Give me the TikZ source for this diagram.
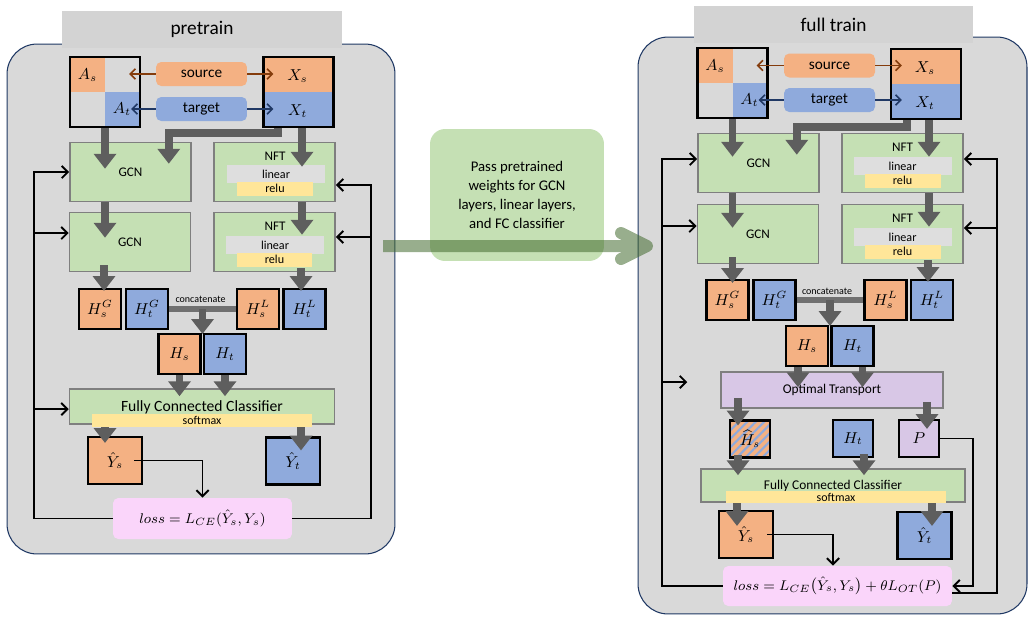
\documentclass[tikz,border=0pt]{standalone}
\usepackage{fontspec}
\setmainfont{Carlito}
\usepackage{amsmath}
\usepackage{xcolor}
\usetikzlibrary{arrows.meta,positioning,calc,patterns.meta}

\definecolor{srcfill}{HTML}{F4B183}
\definecolor{tgtfill}{HTML}{8FAADC}
\definecolor{srcline}{HTML}{843C0C}
\definecolor{tgtline}{HTML}{203864}
\definecolor{layerfill}{HTML}{C5E0B4}
\definecolor{layerline}{HTML}{7F7F7F}
\definecolor{linfill}{HTML}{DEDEDE}
\definecolor{relufill}{HTML}{FFE699}
\definecolor{panelfill}{HTML}{D9D9D9}
\definecolor{panelline}{HTML}{1F3864}
\definecolor{titlefill}{HTML}{D3D3D3}
\definecolor{otfill}{HTML}{D8C7E6}
\definecolor{lossfill}{HTML}{FAD5FA}
\definecolor{flowgray}{HTML}{5E5E5E}
\definecolor{catgray}{HTML}{707070}
\definecolor{passgreen}{HTML}{436B2F}

\newcommand{\fsz}[1]{\fontsize{#1}{#1}\selectfont}

\begin{document}
\begin{tikzpicture}[
  x=0.02cm, y=-0.02cm,
  panel/.style={draw=panelline, line width=0.6pt, fill=panelfill, rounded corners=0.6cm},
  titlebar/.style={fill=titlefill, minimum width=5.6cm, minimum height=0.74cm, font=\fsz{11}},
  mat/.style={draw, line width=1.2pt, fill=panelfill, minimum size=1.4cm, inner sep=0pt},
  adj/.style={mat, path picture={
      \fill[srcfill] (path picture bounding box.north west) rectangle (path picture bounding box.center);
      \fill[tgtfill] (path picture bounding box.center) rectangle (path picture bounding box.south east);}},
  feat/.style={mat, path picture={
      \fill[srcfill] (path picture bounding box.north west) rectangle (path picture bounding box.east);
      \fill[tgtfill] (path picture bounding box.west) rectangle (path picture bounding box.south east);}},
  mlabel/.style={inner sep=0pt, font=\fsz{9}},
  pill/.style={rounded corners=3pt, minimum width=1.82cm, minimum height=0.48cm, inner sep=0pt, font=\fsz{8.7}},
  layer/.style={draw=layerline, line width=0.9pt, fill=layerfill, minimum width=2.42cm, minimum height=1.18cm, inner sep=0pt, font=\fsz{7.5}},
  layertxt/.style={inner sep=0pt, font=\fsz{7.5}},
  linbar/.style={fill=linfill, minimum width=1.96cm, minimum height=0.37cm, inner sep=0pt, font=\fsz{6.9}},
  relubar/.style={fill=relufill, minimum width=1.52cm, minimum height=0.28cm, inner sep=0pt, font=\fsz{6.9}},
  hbox/.style={draw, line width=1.2pt, minimum width=0.84cm, minimum height=0.8cm, inner sep=0pt, font=\fsz{9}},
  ybox/.style={draw, line width=1.2pt, minimum width=1.08cm, minimum height=0.94cm, inner sep=0pt, font=\fsz{9}},
  hatched/.style={hbox, minimum width=0.8cm, minimum height=0.74cm, fill=srcfill, path picture={
      \fill[pattern={Lines[angle=45,distance=3.4pt,line width=1.2pt]}, pattern color=tgtfill]
        (path picture bounding box.south west) rectangle (path picture bounding box.north east);}},
  classifier/.style={draw=layerline, line width=0.9pt, fill=layerfill, minimum height=0.7cm, inner sep=0pt},
  smbar/.style={fill=relufill, minimum width=4.4cm, minimum height=0.26cm, inner sep=0pt, font=\fsz{6.8}},
  losspill/.style={fill=lossfill, rounded corners=3pt, minimum height=0.82cm, inner sep=0pt, font=\fsz{8}},
  fat/.style={draw=flowgray, line width=4.5pt, -{Triangle[length=8.5pt,width=12.5pt]}},
  catbar/.style={draw=catgray, line width=3pt},
  fb/.style={draw=black, line width=1.1pt, -{Straight Barb[length=3.5pt,width=7pt]}},
  srcarrow/.style={draw=srcline, line width=0.9pt, -{Straight Barb[length=3pt,width=6pt]}},
  tgtarrow/.style={draw=tgtline, line width=0.9pt, -{Straight Barb[length=3pt,width=6pt]}},
  passarrow/.style={draw=passgreen, line width=0.24cm},
  small/.style={inner sep=0pt, font=\fsz{5.7}}
]
\useasboundingbox (0,0) rectangle (1033,620);

% ---------------- pretrain ----------------
\node[panel, minimum width=7.76cm, minimum height=10.2cm] (panelL) at (201,299) {};
\node[titlebar] (titleL) at (202,29.5) {pretrain};

% inputs
\node[adj] (AL) at (105,92) {};
\node[feat] (XL) at (298.5,92) {};
\node[mlabel] (AsL) at ($(AL.center)+(-17.5,-17)$) {$A_s$};
\node[mlabel] (AtL) at ($(AL.center)+(17,17)$) {$A_t$};
\node[mlabel] (XsL) at ($(XL.center)+(-1,-16)$) {$X_s$};
\node[mlabel] (XtL) at ($(XL.center)+(-1,19)$) {$X_t$};
\node[pill, fill=srcfill] (srcL) at (201.5,74) {source};
\node[pill, fill=tgtfill] (tgtL) at (201.5,109) {target};

% GCN / NFT layers
\node[layer] (gcnAL) at (130.5,172) {GCN};
\node[layer] (nftAL) at (274.5,172) {};
\node[layertxt] (nftAtL) at (275,156) {NFT};
\node[linbar] (linAL) at (276,174) {linear};
\node[relubar] (reluAL) at (275,188.5) {relu};
\node[layer] (gcnBL) at (130,242) {GCN};
\node[layer] (nftBL) at (274.5,242) {};
\node[layertxt] (nftBtL) at (275,226) {NFT};
\node[linbar] (linBL) at (275,245) {linear};
\node[relubar] (reluBL) at (274.5,259.5) {relu};

% embeddings
\node[hbox, fill=srcfill] (HsGL) at (100,309) {$H^G_s$};
\node[hbox, fill=tgtfill] (HtGL) at (147,309) {$H^G_t$};
\node[hbox, fill=srcfill] (HsLL) at (258,309) {$H^L_s$};
\node[hbox, fill=tgtfill] (HtLL) at (304.5,309) {$H^L_t$};
\node[small] (catTL) at (200.5,299) {concatenate};
\node[hbox, fill=srcfill] (HsL) at (179.5,354) {$H_s$};
\node[hbox, fill=tgtfill] (HtL) at (225,354) {$H_t$};

% classifier and loss
\node[classifier, minimum width=5.3cm] (FCL) at (202,406.5) {};
\node[inner sep=0pt, font=\fsz{8.9}] (FCtL) at (202,407) {Fully Connected Classifier};
\node[smbar] (smL) at (202,420.5) {softmax};
\node[ybox, fill=srcfill] (YsL) at (115,460.5) {$\hat{Y}_s$};
\node[ybox, fill=tgtfill] (YtL) at (293,461) {$\hat{Y}_t$};
\node[losspill, minimum width=3.58cm] (lossL) at (202.5,518.5) {$loss = L_{CE}(\hat{Y}_s, Y_s)$};

% ---------------- full train ----------------
\node[panel, minimum width=7.78cm, minimum height=11.54cm] (panelR) at (832.5,325.5) {};
\node[titlebar, minimum width=5.58cm] (titleR) at (833.5,24.5) {full train};

% inputs
\node[adj] (AR) at (732.5,83) {};
\node[feat] (XR) at (926,84) {};
\node[mlabel] (AsR) at ($(AR.center)+(-17.5,-17)$) {$A_s$};
\node[mlabel] (AtR) at ($(AR.center)+(17,17)$) {$A_t$};
\node[mlabel] (XsR) at ($(XR.center)+(-1,-16)$) {$X_s$};
\node[mlabel] (XtR) at ($(XR.center)+(-1,19)$) {$X_t$};
\node[pill, fill=srcfill] (srcR) at (829.5,65.5) {source};
\node[pill, fill=tgtfill] (tgtR) at (829.5,100) {target};

% GCN / NFT layers
\node[layer] (gcnAR) at (758.5,163) {GCN};
\node[layer] (nftAR) at (902.5,163) {};
\node[layertxt] (nftAtR) at (902.5,147) {NFT};
\node[linbar] (linAR) at (902.5,166) {linear};
\node[relubar] (reluAR) at (902.5,180.5) {relu};
\node[layer] (gcnBR) at (758,234) {GCN};
\node[layer] (nftBR) at (902.5,234) {};
\node[layertxt] (nftBtR) at (902.5,218) {NFT};
\node[linbar] (linBR) at (902.5,237) {linear};
\node[relubar] (reluBR) at (902.5,251.5) {relu};

% embeddings
\node[hbox, fill=srcfill] (HsGR) at (727.5,300) {$H^G_s$};
\node[hbox, fill=tgtfill] (HtGR) at (774.5,300) {$H^G_t$};
\node[hbox, fill=srcfill] (HsLR) at (885.5,300) {$H^L_s$};
\node[hbox, fill=tgtfill] (HtLR) at (932,300) {$H^L_t$};
\node[small] (catTR) at (827,291) {concatenate};
\node[hbox, fill=srcfill] (HsR) at (807,346) {$H_s$};
\node[hbox, fill=tgtfill] (HtR) at (852.5,346) {$H_t$};

% transport
\node[classifier, fill=otfill, minimum width=4.44cm, minimum height=0.72cm, font=\fsz{7.6}] (OTR) at (832,390) {Optimal Transport};
\node[hatched] (HhsR) at (750,439) {$\widehat{H}_s$};
\node[hbox, fill=tgtfill, minimum width=0.8cm, minimum height=0.74cm] (HtbR) at (853,438.5) {$H_t$};
\node[hbox, fill=otfill, minimum width=0.8cm, minimum height=0.74cm] (PR) at (919,438.5) {$P$};

% classifier and loss
\node[classifier, minimum width=5.28cm, minimum height=0.66cm] (FCR) at (833,485.5) {};
\node[inner sep=0pt, font=\fsz{7.6}] (FCtR) at (833,486) {Fully Connected Classifier};
\node[smbar, minimum height=0.24cm] (smR) at (836,497) {softmax};
\node[ybox, fill=srcfill] (YsR) at (746,534.5) {$\hat{Y}_s$};
\node[ybox, fill=tgtfill] (YtR) at (924.5,535.5) {$\hat{Y}_t$};
\node[losspill, minimum width=4.58cm, minimum height=0.8cm] (lossR) at (837.5,586)
  {$loss = L_{CE}\bigl(\hat{Y}_s, Y_s\bigr) + \theta L_{OT}(P)$};

% ---------------- weight transfer ----------------
\node[fill=layerfill, rounded corners=0.3cm, minimum width=3.48cm, minimum height=2.64cm,
      align=center, font=\fontsize{8.4}{10.8}\selectfont] (passbox) at (517,195)
  {Pass pretrained\\weights for GCN\\layers, linear layers,\\and FC classifier};
\coordinate (wfrom) at (383,246);
\coordinate (wto) at (647,246);
\coordinate (wup) at (621,233);
\coordinate (wdown) at (621,259);
\begin{scope}[transparency group, opacity=0.55]
  \draw[passarrow] (wfrom) -- ([xshift=-0.1cm]wto);
  \draw[passarrow, line cap=round, line join=round] (wup) -- (wto) -- (wdown);
\end{scope}

% ---------------- arrows: pretrain ----------------
\draw[srcarrow] (srcL.west) -- ([xshift=-0.24cm]AL.east |- srcL.west);
\draw[srcarrow] (srcL.east) -- ([xshift=0.22cm]XL.west |- srcL.east);
\draw[tgtarrow] (tgtL.west) -- ([xshift=-0.2cm]AL.east |- tgtL.west);
\draw[tgtarrow] (tgtL.east) -- ([xshift=0.22cm]XL.west |- tgtL.east);

\draw[fat] (AL.south) -- ([yshift=-0.54cm]AL.south |- gcnAL.north);
\draw[fat] ([xshift=-0.41cm]XL.south) |- ([xshift=-0.46cm,yshift=0.18cm]gcnAL.north east)
  -- ([xshift=-0.46cm,yshift=-0.44cm]gcnAL.north east);
\draw[fat] ([xshift=0.07cm]XL.south) -- ([xshift=0.07cm,yshift=-0.5cm]XL.south |- nftAL.north);
\draw[fat] (AL.south |- gcnAL.south) -- ([yshift=-0.52cm]AL.south |- gcnBL.north);
\draw[fat] ([xshift=0.07cm]XL.south |- nftAL.south) -- ([xshift=0.07cm,yshift=-0.46cm]XL.south |- nftBL.north);
\draw[fat] ([xshift=0.08cm,yshift=0.14cm]gcnBL.south -| HsGL) -- ([xshift=0.08cm,yshift=-0.06cm]HsGL.north);
\draw[fat] ([xshift=-0.07cm,yshift=0.08cm]nftBL.south -| HtLL) -- ([xshift=-0.07cm,yshift=-0.06cm]HtLL.north);
\draw[catbar] (HtGL.east) -- (HsLL.west);
\coordinate (catL) at ($(HtGL.east)!0.5!(HsLL.west)$);
\draw[fat] (catL) -- ([yshift=-0.02cm]catL |- HsL.north);
\draw[fat] (HsL.south) -- ([yshift=-0.16cm]HsL.south |- FCL.north);
\draw[fat] (HtL.south) -- ([yshift=-0.16cm]HtL.south |- FCL.north);
\draw[fat] ([xshift=-0.2cm]YsL.north |- smL.south) -- ([xshift=-0.2cm,yshift=-0.14cm]YsL.north);
\draw[fat] ([xshift=0.16cm]YtL.north |- smL.south) -- ([xshift=0.16cm,yshift=-0.28cm]YtL.north);

\draw[fb] ([xshift=-0.18cm]YsL.east) -| (lossL.north);
\draw[fb] (lossL.west) -| ([xshift=-0.7cm]gcnAL.west) -- (gcnAL.west);
\draw[fb] ([xshift=-0.7cm,yshift=0.18cm]gcnBL.west) -- ([yshift=0.18cm]gcnBL.west);
\draw[fb] ([xshift=-0.7cm,yshift=-0.05cm]FCL.west) -- ([yshift=-0.05cm]FCL.west);
\draw[fb] (lossL.east) -| ([xshift=0.7cm,yshift=-0.26cm]nftAL.east) -- ([yshift=-0.26cm]nftAL.east);
\draw[fb] ([xshift=0.7cm,yshift=0.1cm]nftBL.east) -- ([yshift=0.1cm]nftBL.east);

% ---------------- arrows: full train ----------------
\draw[srcarrow] (srcR.west) -- ([xshift=-0.24cm]AR.east |- srcR.west);
\draw[srcarrow] (srcR.east) -- ([xshift=0.24cm]XR.west |- srcR.east);
\draw[tgtarrow] (tgtR.west) -- ([xshift=-0.2cm]AR.east |- tgtR.west);
\draw[tgtarrow] (tgtR.east) -- ([xshift=0.24cm]XR.west |- tgtR.east);

\draw[fat] (AR.south) -- ([yshift=-0.48cm]AR.south |- gcnAR.north);
\draw[fat] ([xshift=-0.38cm]XR.south) |- ([xshift=-0.46cm,yshift=0.12cm]gcnAR.north east)
  -- ([xshift=-0.46cm,yshift=-0.44cm]gcnAR.north east);
\draw[fat] ([xshift=0.06cm]XR.south) -- ([xshift=0.06cm,yshift=-0.48cm]XR.south |- nftAR.north);
\draw[fat] (AR.south |- gcnAR.south) -- ([yshift=-0.48cm]AR.south |- gcnBR.north);
\draw[fat] ([xshift=0.06cm]XR.south |- nftAR.south) -- ([xshift=0.06cm,yshift=-0.46cm]XR.south |- nftBR.north);
\draw[fat] ([xshift=0.1cm,yshift=0.14cm]gcnBR.south -| HsGR) -- ([xshift=0.1cm,yshift=-0.08cm]HsGR.north);
\draw[fat] ([xshift=-0.08cm,yshift=0.08cm]nftBR.south -| HtLR) -- ([xshift=-0.08cm,yshift=-0.06cm]HtLR.north);
\draw[catbar] (HtGR.east) -- (HsLR.west);
\coordinate (catR) at ($(HtGR.east)!0.5!(HsLR.west)$);
\draw[fat] (catR) -- ([yshift=-0.02cm]catR |- HsR.north);
\draw[fat] ([xshift=-0.18cm]HsR.south) -- ([xshift=-0.18cm,yshift=-0.32cm]HsR.south |- OTR.north);
\draw[fat] ([xshift=0.2cm]HtR.south) -- ([xshift=0.2cm,yshift=-0.32cm]HtR.south |- OTR.north);
\draw[fat] ([xshift=-0.24cm,yshift=0.22cm]OTR.south -| HhsR) -- ([xshift=-0.24cm,yshift=-0.12cm]HhsR.north);
\draw[fat] ([xshift=0.16cm,yshift=0.14cm]OTR.south -| PR) -- ([xshift=0.16cm,yshift=-0.2cm]PR.north);
\draw[fat] ([xshift=-0.24cm,yshift=0.08cm]HhsR.south) -- ([xshift=-0.24cm,yshift=-0.14cm]HhsR.south |- FCR.north);
\draw[fat] ([xshift=0.22cm,yshift=0.08cm]HtbR.south) -- ([xshift=0.22cm,yshift=-0.14cm]HtbR.south |- FCR.north);
\draw[fat] ([xshift=-0.18cm]YsR.north |- smR.south) -- ([xshift=-0.18cm,yshift=-0.32cm]YsR.north);
\draw[fat] ([xshift=0.15cm]YtR.north |- smR.south) -- ([xshift=0.15cm,yshift=-0.3cm]YtR.north);

\draw[fb] ([xshift=-0.14cm]YsR.east) -| ([xshift=-0.09cm]lossR.north);
\draw[fb] (PR.east) -| ([xshift=0.42cm]lossR.east) -- (lossR.east);
\coordinate (otin) at ([xshift=-0.66cm,yshift=0.16cm]OTR.west);
\draw[fb] (lossR.west) -| ([xshift=-0.7cm,yshift=0.08cm]gcnAR.west) -- ([yshift=0.08cm]gcnAR.west);
\draw[fb] ([xshift=-0.7cm,yshift=0.16cm]gcnBR.west) -- ([yshift=0.16cm]gcnBR.west);
\draw[fb] ([xshift=-1.16cm,yshift=0.16cm]OTR.west) -- (otin);
\draw[fb] ([yshift=-0.14cm]lossR.east) -| ([xshift=0.66cm,yshift=0.08cm]nftAR.east) -- ([yshift=0.08cm]nftAR.east);
\draw[fb] ([xshift=0.66cm,yshift=0.12cm]nftBR.east) -- ([yshift=0.12cm]nftBR.east);
\end{tikzpicture}
\end{document}
